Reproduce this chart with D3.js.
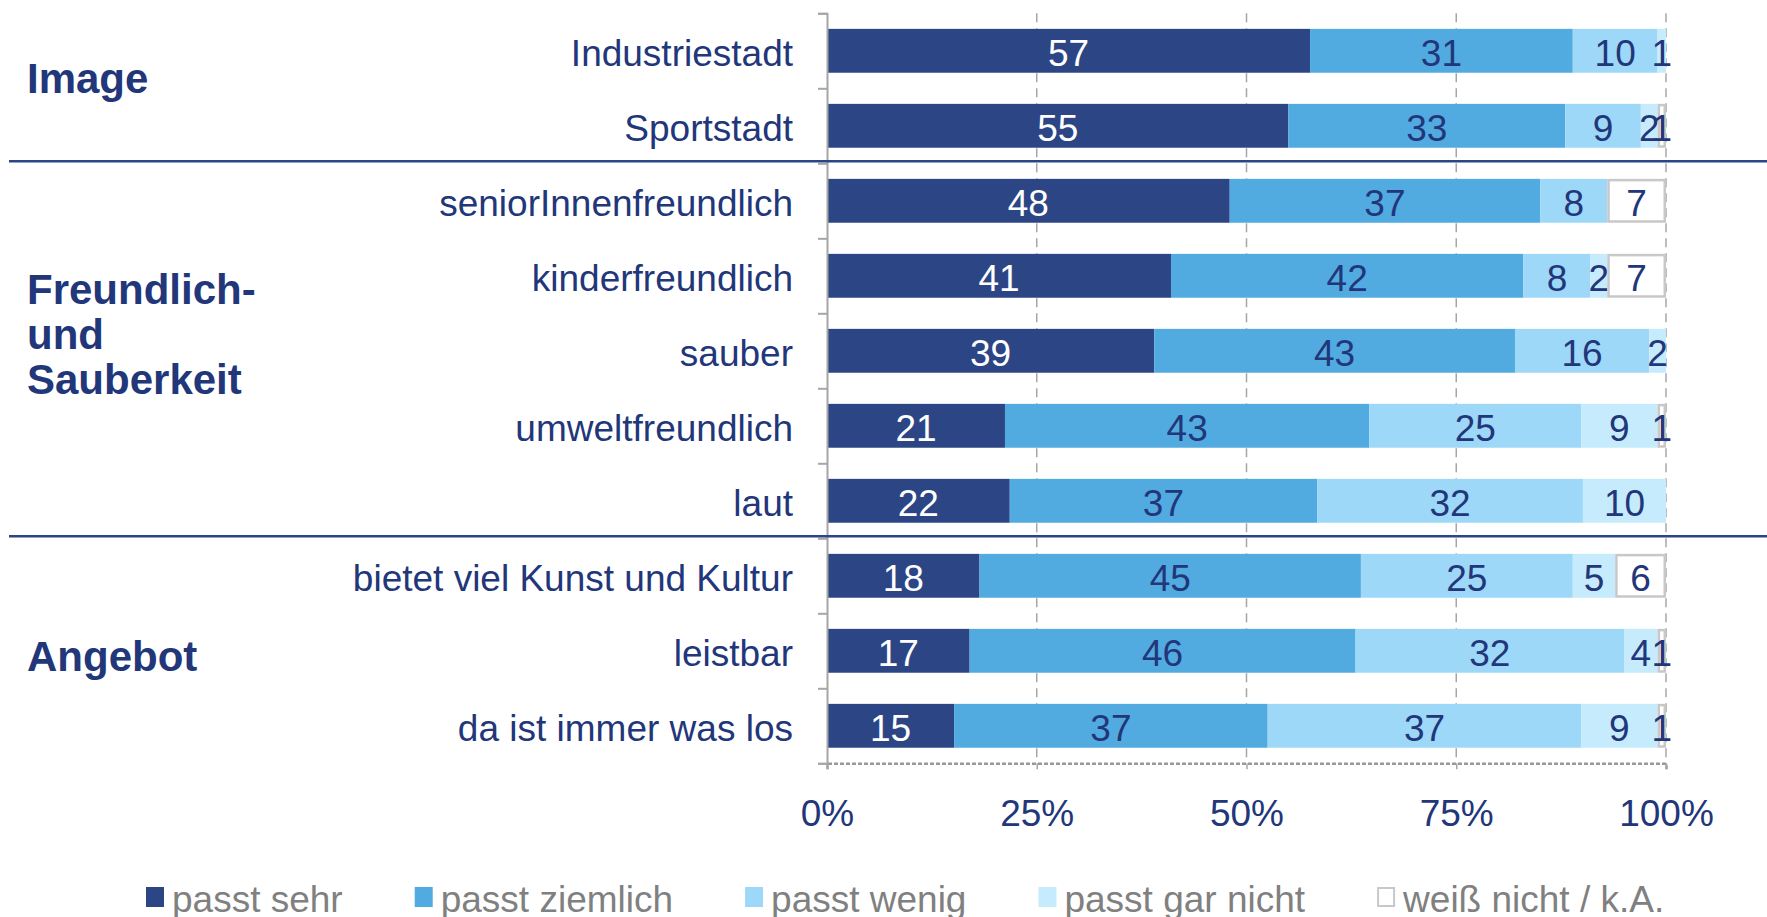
<!DOCTYPE html>
<html>
<head>
<meta charset="utf-8">
<script src="https://cdn.jsdelivr.net/npm/d3@7"></script>
<style>
  body { margin: 0; background: #fff; }
  svg { display: block; font-family: "Liberation Sans", Arial, sans-serif; }
</style>
</head>
<body>
<svg id="chart" width="1767" height="917"></svg>
<script>
// categories (top to bottom)
var categories = ["Industriestadt", "Sportstadt", "seniorInnenfreundlich", "kinderfreundlich",
  "sauber", "umweltfreundlich", "laut", "bietet viel Kunst und Kultur", "leistbar", "da ist immer was los"];

// series values, one array per answer
var sehr     = [57, 55, 48, 41, 39, 21, 22, 18, 17, 15];
var ziemlich = [31, 33, 37, 42, 43, 43, 37, 45, 46, 37];
var wenig    = [10,  9,  8,  8, 16, 25, 32, 25, 32, 37];
var garNicht = [ 1,  2,  0,  2,  2,  9, 10,  5,  4,  9];
var kA       = [ 0,  1,  7,  7,  0,  1,  0,  6,  1,  1];

var seriesNames = ["passt sehr", "passt ziemlich", "passt wenig", "passt gar nicht", "weiß nicht / k.A."];
var seriesColors = ["#2c4585", "#52abe0", "#9dd8f8", "#c6ebfc", "#ffffff"];

// groups on the left
var groups = [
  { lines: ["Image"], first: 0, last: 1, dy: -10 },
  { lines: ["Freundlich-", "und", "Sauberkeit"], first: 2, last: 6, dy: -17 },
  { lines: ["Angebot"], first: 7, last: 9, dy: 5 }
];

var tickValues = [0, 0.25, 0.5, 0.75, 1];

var navy = "#22367a";
var gridGray = "#a6a6a6";

var svg = d3.select("#chart");

var x = d3.scaleLinear().domain([0, 1]).range([827, 1666]);
var y = d3.scaleBand().domain(categories).range([13.3, 763.3])
  .paddingInner(0.415).paddingOuter(0.2075);

// build rows, normalised to 100%
var allSeries = [sehr, ziemlich, wenig, garNicht, kA];
var rows = categories.map(function (c, i) {
  var row = { name: c };
  var total = 0;
  allSeries.forEach(function (s) { total += s[i]; });
  row.total = total;
  seriesNames.forEach(function (n, k) { row[n] = allSeries[k][i]; });
  return row;
});
var stack = d3.stack().keys(seriesNames)
  .value(function (d, key) { return d[key] / d.total; });
var stacked = stack(rows);

// vertical dashed gridlines
svg.append("g").selectAll("line")
  .data(tickValues.slice(1))
  .enter().append("line")
  .attr("x1", function (d) { return x(d); })
  .attr("x2", function (d) { return x(d); })
  .attr("y1", 13.3)
  .attr("y2", 763.3)
  .style("stroke", gridGray)
  .style("stroke-width", 1.5)
  .style("stroke-dasharray", "9,6");

// bars
var layer = svg.append("g").selectAll("g")
  .data(stacked)
  .enter().append("g")
  .attr("fill", function (d, i) { return seriesColors[i]; });

layer.selectAll("rect")
  .data(function (d) { return d.map(function (p) { return { p: p, key: d.key, idx: d.index }; }); })
  .enter().append("rect")
  .filter(function (d) { return d.p[1] - d.p[0] > 0; })
  .attr("x", function (d) { return x(d.p[0]) + (d.idx == 4 ? 1.25 : 0); })
  .attr("y", function (d) { return y(d.p.data.name) + (d.idx == 4 ? 1.25 : 0); })
  .attr("width", function (d) { return x(d.p[1]) - x(d.p[0]) - (d.idx == 4 ? 2.5 : 0); })
  .attr("height", function (d) { return y.bandwidth() - (d.idx == 4 ? 2.5 : 0); })
  .style("stroke", function (d) { return d.idx == 4 ? "#c8c8c8" : "none"; })
  .style("stroke-width", 2.5);

// value labels
layer.selectAll("text")
  .data(function (d) { return d.map(function (p) { return { p: p, key: d.key, idx: d.index }; }); })
  .enter().append("text")
  .filter(function (d) { return d.p.data[d.key] > 0; })
  .attr("x", function (d) { return (x(d.p[0]) + x(d.p[1])) / 2; })
  .attr("y", function (d) { return y(d.p.data.name) + y.bandwidth() / 2; })
  .attr("dy", "0.4em")
  .attr("text-anchor", "middle")
  .style("font-size", "37px")
  .style("fill", function (d) { return d.idx == 0 ? "#ffffff" : navy; })
  .text(function (d) { return d.p.data[d.key]; });

// left axis with ticks at band boundaries
var yLin = d3.scaleLinear().domain([0, categories.length]).range([13.3, 763.3]);
var leftAxis = svg.append("g")
  .attr("transform", "translate(" + x(0) + ",0)")
  .call(d3.axisLeft(yLin).tickValues(d3.range(categories.length + 1)).tickSize(9).tickFormat(""));
leftAxis.select(".domain").style("stroke", gridGray).style("stroke-width", 2);
leftAxis.selectAll(".tick line").style("stroke", gridGray).style("stroke-width", 2);

// bottom axis
var bottomAxis = svg.append("g")
  .attr("transform", "translate(0,763.3)")
  .call(d3.axisBottom(x).tickValues(tickValues).tickSize(6).tickPadding(30)
    .tickFormat(d3.format(".0%")));
bottomAxis.select(".domain")
  .style("stroke", "#999")
  .style("stroke-width", 2.5)
  .style("stroke-dasharray", "4,2");
bottomAxis.selectAll(".tick line").style("stroke", gridGray).style("stroke-width", 1.5);
bottomAxis.selectAll(".tick text")
  .style("font-size", "37px")
  .style("font-family", "'Liberation Sans', Arial, sans-serif")
  .style("fill", navy);

// category labels
svg.append("g").selectAll("text")
  .data(categories)
  .enter().append("text")
  .attr("x", x(0) - 34)
  .attr("y", function (d) { return y(d) + y.bandwidth() / 2; })
  .attr("dy", "0.4em")
  .attr("text-anchor", "end")
  .style("font-size", "37px")
  .style("fill", navy)
  .text(function (d) { return d; });

// separator lines between groups
svg.append("g").selectAll("line")
  .data(groups.slice(1))
  .enter().append("line")
  .attr("x1", 9)
  .attr("x2", 1767)
  .attr("y1", function (g) { return yLin(g.first) - 2; })
  .attr("y2", function (g) { return yLin(g.first) - 2; })
  .style("stroke", "#2c4585")
  .style("stroke-width", 2.5);

// group labels
groups.forEach(function (g) {
  var mid = (yLin(g.first) + yLin(g.last + 1)) / 2 + g.dy;
  var lineH = 45;
  var t = svg.append("text")
    .attr("x", 27)
    .style("font-size", "42px")
    .style("font-weight", "bold")
    .style("fill", navy);
  g.lines.forEach(function (l, i) {
    t.append("tspan")
      .attr("x", 27)
      .attr("y", mid + (i - (g.lines.length - 1) / 2) * lineH)
      .attr("dy", "0.36em")
      .text(l);
  });
});

// legend
var legend = svg.append("g");
var lx = 146;
seriesNames.forEach(function (n, i) {
  legend.append("rect")
    .attr("x", lx + (i == 4 ? 1 : 0))
    .attr("y", 887 + (i == 4 ? 1 : 0))
    .attr("width", i == 4 ? 16 : 18)
    .attr("height", i == 4 ? 18 : 20)
    .style("fill", seriesColors[i])
    .style("stroke", i == 4 ? "#c8c8c8" : "none")
    .style("stroke-width", 2);
  var t = legend.append("text")
    .attr("x", lx + 26)
    .attr("y", 912)
    .style("font-size", "37px")
    .style("fill", "#808080")
    .text(n);
  lx += 26 + t.node().getComputedTextLength() + 72;
});
</script>
</body>
</html>
